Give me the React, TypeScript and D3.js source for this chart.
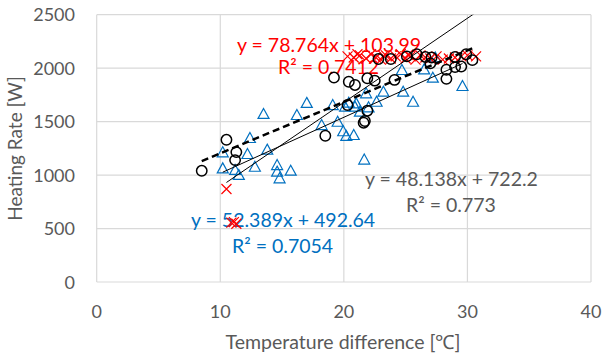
import React from "react";
import * as d3 from "d3";

// black open circles (dashed trendline)
const circleX = [8.5, 10.5, 11.3, 11.2, 18.5, 19.2, 20.4, 20.9, 21.9, 22.5, 20.3, 21.9, 21.7, 21.6, 22.8, 23.8, 24.1, 25.1, 25.9, 26.6, 27.1, 27.0, 28.3, 28.3, 29.0, 29.5, 29.0, 29.9, 30.4];
const circleY = [1040, 1330, 1215, 1140, 1368, 1912, 1873, 1843, 1905, 1883, 1655, 1602, 1506, 1490, 2085, 2085, 1890, 2110, 2130, 2105, 2100, 2045, 1985, 1900, 2010, 2015, 2105, 2130, 2075];

// red crosses
const crossX = [10.5, 10.9, 11.1, 11.3, 20.3, 20.8, 21.1, 21.3, 21.8, 22.2, 22.6, 23.0, 23.2, 23.4, 23.8, 24.2, 24.6, 25.0, 25.2, 25.4, 25.8, 26.2, 26.6, 27.0, 27.5, 28.0, 28.5, 29.0, 29.5, 30.0, 30.7];
const crossY = [870, 555, 560, 545, 2110, 2100, 2130, 2120, 2090, 2130, 2100, 2080, 2115, 2120, 2090, 2110, 2130, 2090, 2125, 2110, 2080, 2120, 2100, 2090, 2110, 2080, 2090, 2100, 2110, 2120, 2110];

// blue open triangles
const triX = [10.2, 10.2, 11.2, 11.5, 12.2, 12.4, 12.8, 13.5, 13.8, 14.6, 14.6, 14.8, 15.7, 16.2, 17.0, 18.2, 19.1, 19.5, 19.95, 20.2, 20.8, 20.1, 20.4, 21.0, 20.9, 21.3, 21.8, 22.0, 22.65, 23.2, 21.65, 24.7, 26.5, 27.2, 24.8, 25.6, 29.6, 27.4];
const triY = [1213, 1063, 1048, 1001, 1197, 1347, 1078, 1572, 1238, 1094, 1032, 970, 1041, 1562, 1675, 1468, 1655, 1499, 1410, 1366, 1375, 1640, 1677, 1671, 1640, 1593, 1765, 1634, 1686, 1780, 1145, 1983, 1989, 1911, 1780, 1686, 1833, 2100];

// trendline coefficients [slope, intercept]
const circleFit = [48.138, 722.2];
const crossFit = [78.764, 103.99];
const triFit = [52.389, 492.64];

const xTicks = [0, 10, 20, 30, 40];
const yTicks = [0, 500, 1000, 1500, 2000, 2500];

const font = "Lato, 'Open Sans', sans-serif";

export default function App() {
  const W = 604;
  const H = 358;
  const left = 96.7, right = 591, top = 14.7, bottom = 282;

  const x = d3.scaleLinear().domain([0, 40]).range([left, right]);
  const y = d3.scaleLinear().domain([0, 2500]).range([bottom, top]);

  const fitLine = (xs: number[], fit: number[]) => {
    const [x0, x1] = d3.extent(xs) as [number, number];
    return d3.line<number>().x(d => x(d)).y(d => y(fit[0] * d + fit[1]))([x0, x1]) || "";
  };

  const grid = "#D9D9D9";
  const tickColor = "#595959";

  return (
    <svg width={W} height={H} style={{ position: "absolute", left: 0, top: 0, background: "#fff" }}
      fontFamily={font}>
      <defs>
        <clipPath id="plot">
          <rect x={left} y={top} width={right - left} height={bottom - top} />
        </clipPath>
      </defs>

      {/* grid */}
      {yTicks.map(t => (
        <line key={"gy" + t} x1={left} x2={right} y1={y(t)} y2={y(t)} stroke={grid} strokeWidth={1.2} />
      ))}
      {xTicks.map(t => (
        <line key={"gx" + t} x1={x(t)} x2={x(t)} y1={top} y2={bottom} stroke={grid} strokeWidth={1.2} />
      ))}

      {/* tick labels */}
      {yTicks.map(t => (
        <text key={"ty" + t} x={75} y={y(t) + 6.5} textAnchor="end" fontSize={18} fill={tickColor}>{t}</text>
      ))}
      {xTicks.map(t => (
        <text key={"tx" + t} x={x(t)} y={318} textAnchor="middle" fontSize={18} fill={tickColor}>{t}</text>
      ))}

      {/* axis titles */}
      <text x={343} y={349} textAnchor="middle" fontSize={19.5} fill={tickColor}>Temperature difference [℃]</text>
      <text transform="translate(22,148.5) rotate(-90)" textAnchor="middle" fontSize={19} fill={tickColor}>Heating Rate [W]</text>

      {/* trendline labels */}
      <text x={237} y={51.5} fontSize={19.5} fill="#FF0000">y = 78.764x + 103.99</text>
      <text x={278} y={74} fontSize={19.5} fill="#FF0000">R² = 0.7412</text>
      <text x={365} y={186} fontSize={19.5} fill="#595959">y = 48.138x + 722.2</text>
      <text x={406} y={211.5} fontSize={19.5} fill="#595959">R² = 0.773</text>
      <text x={191} y={227} fontSize={19.5} fill="#0070C0">y = 52.389x + 492.64</text>
      <text x={232} y={253} fontSize={19.5} fill="#0070C0">R² = 0.7054</text>

      {/* triangles */}
      {triX.map((d, i) => {
        const cx = x(d), cy = y(triY[i]);
        return (
          <path key={"t" + i} d={`M${cx},${cy - 5.5} L${cx + 5.5},${cy + 4.5} L${cx - 5.5},${cy + 4.5} Z`}
            fill="none" stroke="#0070C0" strokeWidth={1.2} />
        );
      })}

      {/* crosses */}
      {crossX.map((d, i) => {
        const cx = x(d), cy = y(crossY[i]);
        return (
          <path key={"c" + i} d={`M${cx - 5},${cy - 5} L${cx + 5},${cy + 5} M${cx + 5},${cy - 5} L${cx - 5},${cy + 5}`}
            stroke="#FF0000" strokeWidth={1.2} fill="none" />
        );
      })}

      {/* circles */}
      {circleX.map((d, i) => (
        <circle key={"o" + i} cx={x(d)} cy={y(circleY[i])} r={5.2} fill="none" stroke="#000" strokeWidth={1.5} />
      ))}

      {/* trendlines */}
      <g clipPath="url(#plot)">
        <path d={fitLine(crossX, crossFit)} stroke="#000" strokeWidth={1} fill="none" />
        <path d={fitLine(triX, triFit)} stroke="#000" strokeWidth={1} fill="none" />
        <path d={fitLine(circleX, circleFit)} stroke="#000" strokeWidth={2.5} strokeDasharray="7 4" fill="none" />
      </g>
    </svg>
  );
}
